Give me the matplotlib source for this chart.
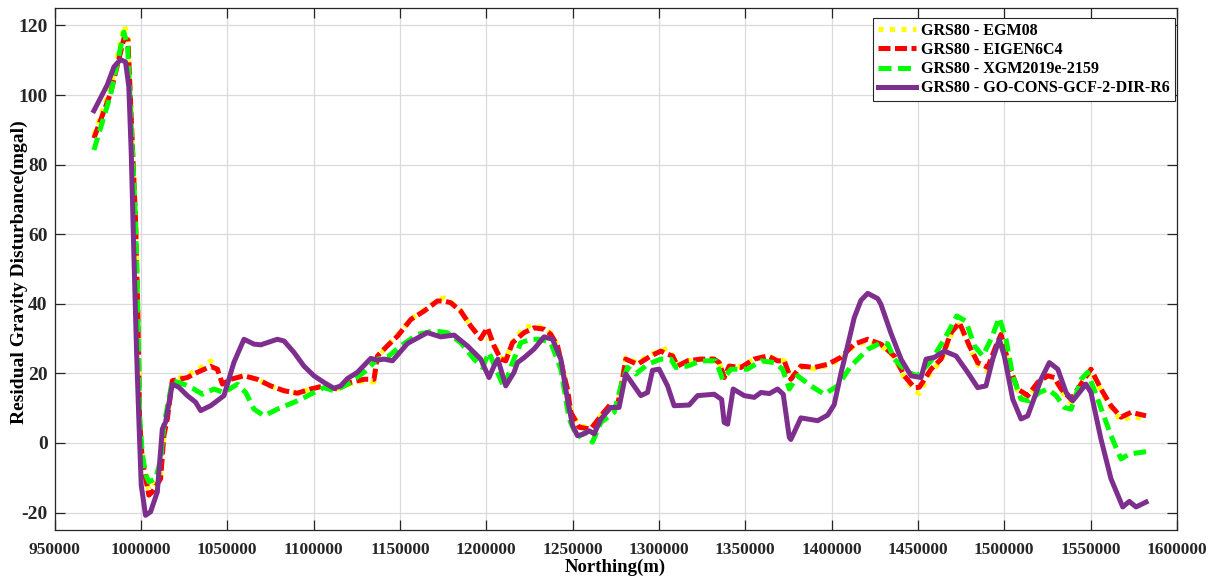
import numpy as np
import matplotlib
import matplotlib.pyplot as plt
from matplotlib.ticker import FuncFormatter

matplotlib.use("Agg")

# Northing in thousands of metres, residual gravity disturbance in mGal
yellow_x = [972.8, 982.4, 990.3, 992.5, 996.9, 998.3, 999.2, 1000.8, 1004.6, 1006.8, 1011.4, 1013.3, 1015.3,
            1018.2, 1026.9, 1032.7, 1040.4, 1044.3, 1047.2, 1052.0, 1059.7, 1067.4, 1075.1, 1082.9, 1090.6,
            1098.3, 1106.0, 1113.8, 1121.5, 1129.2, 1135.0, 1137.0, 1142.7, 1148.6, 1156.3, 1164.0, 1171.7,
            1175.5, 1179.4, 1185.2, 1191.0, 1196.8, 1200.7, 1204.5, 1208.4, 1211.3, 1215.2, 1221.9, 1227.7,
            1233.5, 1237.4, 1241.3, 1245.1, 1247.0, 1249.0, 1253.8, 1260.6, 1266.4, 1272.1, 1276.0, 1278.9,
            1280.8, 1287.6, 1295.3, 1301.1, 1305.0, 1307.9, 1310.8, 1316.6, 1324.3, 1332.0, 1334.9, 1337.8,
            1340.7, 1347.5, 1355.2, 1362.9, 1368.7, 1372.6, 1376.4, 1382.2, 1389.9, 1397.7, 1405.4, 1413.1,
            1420.9, 1428.6, 1436.3, 1442.1, 1447.9, 1450.8, 1457.6, 1463.4, 1469.2, 1474.0, 1479.8, 1484.6,
            1490.4, 1495.2, 1498.1, 1502.9, 1507.8, 1513.6, 1519.4, 1525.2, 1529.0, 1532.9, 1538.7, 1542.5,
            1550.2, 1556.0, 1561.8, 1567.6, 1573.4, 1582.1]
yellow_y = [88.5, 102.0, 120.0, 117.0, 64.0, 36.0, 7.5, -4.5, -13.5, -13.0, -9.5, 2.5, 7.5,
            18.0, 19.5, 21.0, 23.6, 21.0, 17.0, 18.5, 19.3, 18.3, 16.4, 15.0, 14.3,
            15.5, 16.4, 15.5, 17.0, 17.8, 17.5, 24.5, 28.0, 31.0, 35.5, 38.2, 41.0,
            41.7, 40.5, 38.0, 33.6, 30.0, 31.0, 28.5, 24.5, 24.0, 29.0, 33.2, 33.8,
            33.0, 31.5, 28.0, 19.5, 15.5, 9.0, 5.0, 4.3, 7.8, 11.2, 10.7, 18.3,
            24.5, 23.0, 25.5, 26.5, 27.2, 25.0, 22.5, 23.6, 24.1, 24.1, 23.1, 19.0,
            22.1, 22.0, 24.1, 25.0, 24.0, 23.6, 18.8, 21.8, 21.3, 22.2, 24.0, 28.0,
            29.3, 28.0, 24.5, 18.8, 15.0, 14.2, 20.5, 23.5, 31.0, 34.0, 27.5, 22.5,
            20.5, 27.0, 30.5, 22.0, 15.0, 13.0, 17.0, 19.3, 18.5, 15.0, 11.5, 14.5,
            20.8, 15.0, 10.0, 6.5, 7.5, 6.9]

red_x = yellow_x
red_y = [87.6, 100.5, 116.5, 115.8, 64.0, 35.5, 6.9, -5.0, -15.0, -14.0, -10.3, 2.1, 6.9,
         17.9, 18.8, 20.3, 22.0, 21.2, 16.9, 18.3, 19.3, 18.3, 16.4, 15.0, 14.3,
         15.5, 16.4, 15.5, 17.4, 18.3, 18.3, 25.0, 27.9, 30.7, 35.5, 37.9, 40.8,
         40.8, 40.3, 37.9, 33.6, 30.0, 33.1, 27.9, 24.1, 23.6, 28.8, 31.7, 33.1,
         32.7, 31.2, 27.9, 19.3, 15.5, 8.8, 4.5, 4.0, 7.8, 11.2, 10.7, 18.3,
         24.1, 22.6, 25.0, 26.4, 25.5, 25.0, 22.1, 23.6, 24.1, 24.1, 23.1, 18.8,
         22.1, 21.7, 24.1, 25.0, 23.6, 23.6, 18.3, 22.1, 21.7, 22.6, 24.6, 28.4,
         29.8, 28.4, 25.0, 19.3, 15.9, 16.0, 21.2, 24.1, 31.7, 34.6, 27.9, 23.1,
         21.7, 27.9, 31.2, 22.1, 15.5, 13.6, 17.4, 19.3, 18.8, 15.5, 12.5, 15.5,
         21.2, 15.5, 10.7, 7.4, 8.8, 7.8]

green_x = [972.8, 982.4, 990.1, 992.3, 996.9, 998.3, 999.2, 1000.8, 1002.7, 1004.6, 1008.5, 1011.4, 1013.3,
           1018.2, 1024.9, 1030.7, 1035.6, 1042.3, 1048.1, 1055.9, 1060.7, 1065.5, 1071.3, 1079.0, 1090.6,
           1098.3, 1106.0, 1111.8, 1119.6, 1129.2, 1137.0, 1142.7, 1150.5, 1160.2, 1169.8, 1177.5, 1185.2,
           1192.9, 1197.8, 1201.6, 1204.9, 1210.3, 1215.2, 1220.0, 1225.8, 1231.6, 1237.4, 1243.2, 1248.0,
           1252.8, 1257.7, 1261.5, 1266.4, 1274.1, 1278.0, 1281.8, 1286.6, 1293.4, 1301.1, 1306.9, 1309.8,
           1316.6, 1324.3, 1333.0, 1336.9, 1341.7, 1351.3, 1359.1, 1366.8, 1371.6, 1375.5, 1380.3, 1388.0,
           1395.7, 1403.5, 1411.2, 1420.9, 1428.6, 1432.5, 1436.3, 1444.0, 1449.8, 1457.6, 1465.3, 1472.5,
           1477.8, 1482.7, 1487.5, 1492.3, 1497.1, 1501.0, 1504.9, 1509.7, 1514.5, 1520.3, 1525.2, 1530.0,
           1534.8, 1538.7, 1544.5, 1548.3, 1554.1, 1561.8, 1567.6, 1572.4, 1582.1]
green_y = [84.2, 100.0, 118.1, 114.0, 64.0, 35.5, 8.0, -3.0, -9.0, -11.2, -10.3, -5.0, 5.0,
           17.9, 16.9, 15.5, 14.0, 15.5, 14.5, 16.9, 14.5, 9.7, 7.8, 9.7, 12.1,
           14.0, 15.9, 15.0, 16.9, 20.3, 24.1, 24.6, 27.9, 31.2, 32.2, 31.7, 28.8,
           24.1, 21.7, 26.0, 22.1, 15.9, 23.1, 28.8, 29.8, 29.8, 28.8, 21.2, 6.9,
           1.6, 3.1, 0.2, 5.9, 8.8, 16.4, 21.7, 19.8, 22.6, 24.1, 24.1, 21.7,
           22.1, 23.6, 23.6, 18.3, 21.2, 21.2, 23.6, 23.1, 21.2, 15.5, 19.3, 16.4,
           14.0, 16.4, 22.1, 26.9, 28.8, 28.5, 24.1, 20.3, 19.3, 23.6, 29.8, 36.5,
           35.0, 27.9, 25.0, 29.8, 36.0, 29.8, 19.3, 12.6, 12.1, 14.5, 15.5, 13.6,
           10.2, 9.7, 18.3, 20.3, 12.6, 2.1, -4.6, -3.2, -2.5]

purple_x = [972.8, 980.5, 984.4, 988.2, 991.1, 993.0, 994.4, 995.9, 997.5, 998.8, 1000.2, 1002.7, 1005.6,
            1009.5, 1012.4, 1014.3, 1018.2, 1022.0, 1026.9, 1031.7, 1034.6, 1040.4, 1048.1, 1053.9, 1059.7,
            1065.5, 1069.4, 1079.0, 1082.9, 1088.7, 1094.4, 1100.2, 1106.0, 1111.8, 1115.7, 1119.6, 1125.4,
            1133.1, 1137.0, 1140.8, 1145.7, 1154.4, 1165.9, 1173.6, 1181.4, 1189.1, 1196.8, 1201.6, 1204.5,
            1206.7, 1211.3, 1216.1, 1218.1, 1221.9, 1227.7, 1233.5, 1238.4, 1243.2, 1247.0, 1250.0, 1252.8,
            1256.0, 1259.6, 1262.5, 1266.4, 1272.1, 1276.9, 1280.8, 1285.6, 1289.5, 1293.4, 1296.3, 1300.1,
            1305.0, 1308.8, 1317.5, 1322.4, 1332.0, 1336.3, 1337.8, 1339.8, 1343.0, 1349.4, 1355.2, 1359.1,
            1364.0, 1368.7, 1372.0, 1375.5, 1376.4, 1378.4, 1382.2, 1391.9, 1397.7, 1401.5, 1405.4, 1409.3,
            1413.1, 1417.0, 1420.9, 1426.7, 1428.6, 1434.4, 1440.2, 1446.0, 1451.8, 1454.7, 1459.5, 1465.3,
            1472.1, 1478.8, 1484.6, 1489.4, 1493.3, 1497.1, 1500.0, 1504.9, 1509.7, 1513.6, 1521.3, 1526.1,
            1531.0, 1535.8, 1539.6, 1543.5, 1547.3, 1550.2, 1556.0, 1561.8, 1568.6, 1572.4, 1576.3, 1582.1]
purple_y = [95.5, 102.9, 108.1, 110.2, 109.5, 102.4, 83.4, 54.7, 26.0, 6.9, -12.2, -20.8, -19.8,
            -14.1, 4.0, 6.0, 16.9, 16.0, 13.6, 11.7, 9.3, 10.7, 13.6, 23.2, 29.8,
            28.4, 28.2, 29.8, 29.3, 26.0, 22.1, 19.3, 17.4, 15.7, 16.4, 18.5, 20.3,
            24.3, 23.8, 24.1, 23.6, 28.6, 31.7, 30.5, 31.0, 27.9, 24.1, 18.8, 22.1,
            24.1, 16.4, 20.3, 23.1, 24.5, 27.0, 30.5, 29.8, 24.1, 12.6, 5.0, 2.1,
            2.5, 3.5, 2.6, 6.9, 10.2, 10.2, 19.8, 16.4, 13.6, 14.5, 20.9, 21.2,
            16.4, 10.7, 10.9, 13.6, 14.0, 12.5, 5.9, 5.4, 15.5, 13.6, 13.1, 14.5,
            14.2, 15.5, 14.0, 1.6, 1.0, 3.1, 7.2, 6.4, 8.0, 11.0, 20.0, 28.0,
            36.0, 41.0, 43.0, 41.5, 39.8, 31.5, 24.1, 19.3, 18.8, 24.1, 24.6, 26.4,
            25.0, 20.3, 15.9, 16.4, 24.1, 29.8, 25.0, 12.6, 6.9, 7.8, 18.3, 23.1,
            21.2, 14.5, 12.1, 14.5, 16.9, 14.5, 1.1, -10.3, -18.4, -16.8, -18.4, -17.0]

labels = ['GRS80 - EGM08', 'GRS80 - EIGEN6C4', 'GRS80 - XGM2019e-2159', 'GRS80 - GO-CONS-GCF-2-DIR-R6']

plt.rcParams['font.family'] = ['Liberation Serif', 'DejaVu Serif']
plt.rcParams['font.weight'] = 'bold'
plt.rcParams['axes.unicode_minus'] = False

fig = plt.figure(figsize=(12.18, 5.76), dpi=100)
ax = fig.add_axes([0.0448, 0.080, 0.9215, 0.906])

lw = 3.6
kw = dict(lw=lw, solid_joinstyle='round', dash_joinstyle='round')
ax.plot(np.array(yellow_x) * 1000, yellow_y, color='#FFFF00', dashes=(1, 1.3), label=labels[0], **kw)
ax.plot(np.array(red_x) * 1000, red_y, color='#FF0000', dashes=(2.4, 0.9), label=labels[1], **kw)
ax.plot(np.array(green_x) * 1000, green_y, color='#00FF00', dashes=(2.6, 1.3), label=labels[2], **kw)
ax.plot(np.array(purple_x) * 1000, purple_y, color='#7E2F8E', label=labels[3], **kw)

ax.set_xlim(950000, 1600000)
ax.set_ylim(-25, 125)
ax.set_xticks(np.arange(950000, 1600001, 50000))
ax.set_yticks(np.arange(-20, 121, 20))
ax.xaxis.set_major_formatter(FuncFormatter(lambda v, p: f'{int(v)}'))
ax.grid(True, color='#DADADA', lw=0.9)
ax.set_axisbelow(True)
ax.tick_params(direction='in', length=7, width=0.9, top=True, right=True, colors='#262626')
ax.tick_params(axis='x', labelsize=12.5, pad=9)
ax.tick_params(axis='y', labelsize=14, pad=5)
for s in ax.spines.values():
    s.set_color('#262626')
    s.set_linewidth(0.9)

ax.set_xlabel('Northing(m)', fontsize=13.5, fontweight='bold', labelpad=0)
ax.set_ylabel('Residual Gravity Disturbance(mgal)', fontsize=14, fontweight='bold')
ax.yaxis.set_label_coords(-0.0236, 0.494)

leg = ax.legend(loc='upper right', bbox_to_anchor=(0.998, 0.981), fontsize=11.5, handlelength=2.4,
                framealpha=1, fancybox=False, edgecolor='#262626', borderpad=0.3, labelspacing=0.2,
                handletextpad=0.3, borderaxespad=0)
leg.get_frame().set_linewidth(0.8)

fig.savefig('out.png', dpi=100)
